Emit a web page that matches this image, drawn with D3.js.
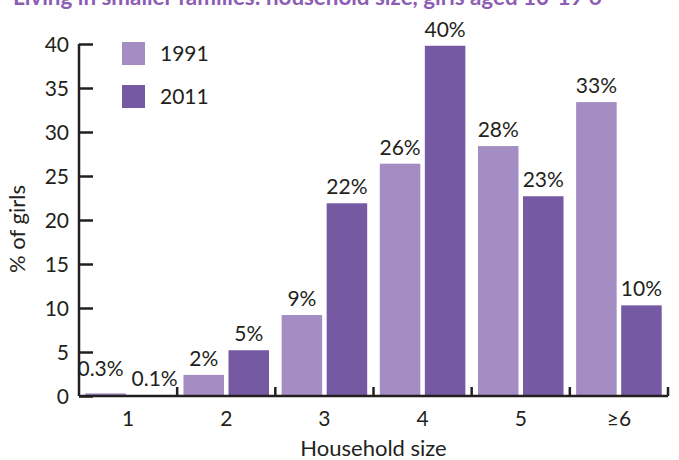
<!DOCTYPE html>
<html><head><meta charset="utf-8">
<script src="https://cdn.jsdelivr.net/npm/d3@7"></script>
<style>body{margin:0;background:#fff}svg{display:block}text{font-family:Lato,"Open Sans",sans-serif;fill:#231f20}</style>
</head><body><svg id="c" width="679" height="460"></svg>
<script>
const categories = ["1","2","3","4","5","≥6"];
const series = ["1991","2011"];
const values1991 = [0.3, 2.4, 9.2, 26.4, 28.4, 33.4];
const values2011 = [0.1, 5.2, 21.9, 39.8, 22.7, 10.3];
const labels1991 = ["0.3%","2%","9%","26%","28%","33%"];
const labels2011 = ["0.1%","5%","22%","40%","23%","10%"];
const yTicks = [0,5,10,15,20,25,30,35,40];
const colors = ["#a38dc3","#7559a3"];
const title = "Living in smaller families: household size, girls aged 10-19 6";

const svg = d3.select("#c");
const FS = "21px";
const x0 = 79, x1 = 668, yTop = 44, yBot = 396;
const x = d3.scaleBand().domain(categories).range([x0, x1]).paddingInner(0).paddingOuter(0);
const xs = d3.scaleBand().domain(series).range([0, x.bandwidth()]).paddingInner(0.1).paddingOuter(0.14);
const y = d3.scaleLinear().domain([0,40]).range([yBot, yTop]);

svg.append("text").attr("x", 13).attr("y", 4.5).style("font-weight","bold").style("font-size","22.4px")
  .style("fill","#8b5db3").text(title);

const data = [values1991, values2011];
const labs = [labels1991, labels2011];
series.forEach((s, si) => {
  const g = svg.append("g");
  g.selectAll("rect").data(categories).join("rect")
    .attr("x", c => x(c) + xs(s)).attr("width", xs.bandwidth())
    .attr("y", (c,i) => y(data[si][i])).attr("height", (c,i) => yBot - y(data[si][i]))
    .attr("fill", colors[si]);
  g.selectAll("text").data(categories).join("text")
    .attr("x", (c,i) => x(c) + xs(s) + xs.bandwidth()/2 + (i === 0 ? (si === 0 ? -5 : 4) : 0))
    .attr("y", (c,i) => y(data[si][i]) - 9 - (i === 0 && si === 0 ? 8 : 0))
    .attr("text-anchor","middle").style("font-size",FS)
    .text((c,i) => labs[si][i]);
});

// axes
const axCol = "#231f20";
const yAxis = d3.axisLeft(y).tickValues(yTicks).tickSize(-14).tickPadding(10);
const gy = svg.append("g").attr("transform", `translate(${x0},0)`).call(yAxis);
gy.select(".domain").attr("stroke", axCol).attr("stroke-width", 2.5).attr("d", `M0,${yTop}V${yBot}`);
gy.selectAll(".tick line").attr("stroke", axCol).attr("stroke-width", 2.5);
gy.selectAll(".tick text").style("font-size",FS).style("font-family","Lato").attr("fill","#231f20").attr("dy","0.36em");

const xAxis = d3.axisBottom(x).tickSize(0).tickPadding(15);
const gx = svg.append("g").attr("transform", `translate(0,${yBot})`).call(xAxis);
gx.select(".domain").attr("stroke", axCol).attr("stroke-width", 2.5).attr("d", `M${x0},0H${x1}`);
gx.selectAll(".tick text").style("font-size",FS).style("font-family","Lato").attr("fill","#231f20");
// boundary ticks
const bounds = categories.map(c => x(c) + x.bandwidth());
gx.selectAll("line.b").data(bounds).join("line").attr("class","b")
  .attr("x1", d => d).attr("x2", d => d).attr("y1", 0).attr("y2", -9)
  .attr("stroke", axCol).attr("stroke-width", 2.5);

// axis titles
svg.append("text").attr("transform","translate(25,229) rotate(-90)").attr("text-anchor","middle")
  .style("font-size","22px").text("% of girls");
svg.append("text").attr("x", (x0+x1)/2).attr("y", 456).attr("text-anchor","middle")
  .style("font-size","22px").text("Household size");

// legend
series.forEach((s, i) => {
  svg.append("rect").attr("x",122).attr("y",42 + i*43).attr("width",23).attr("height",23).attr("fill",colors[i]);
  svg.append("text").attr("x",160).attr("y",53.5 + i*43).attr("dy","0.36em").style("font-size",FS).text(s);
});
</script></body></html>
